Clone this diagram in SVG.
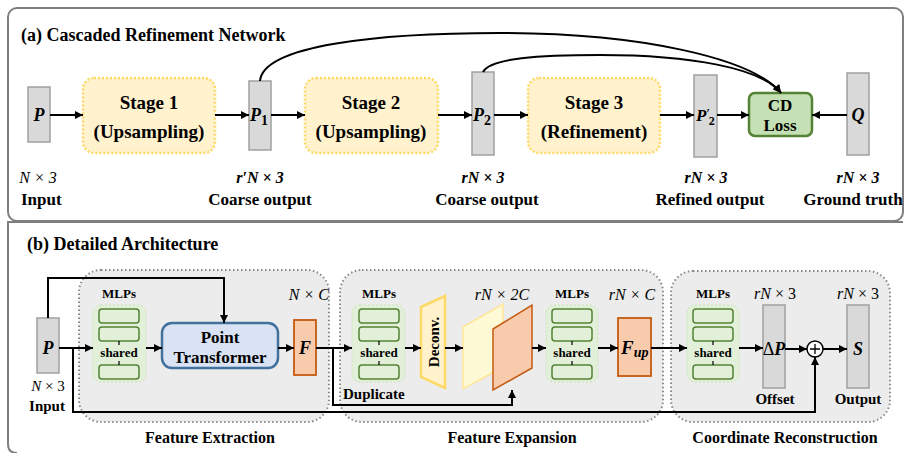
<svg xmlns="http://www.w3.org/2000/svg" width="905" height="453" viewBox="0 0 905 453" font-family="'Liberation Serif', 'DejaVu Serif', serif">
<defs>
<marker id="ah" viewBox="0 0 10 10" refX="10" refY="5" markerWidth="9" markerHeight="8" orient="auto" markerUnits="userSpaceOnUse"><path d="M0,0 L10,5 L0,10 z" fill="#000"/></marker>
</defs>
<style>
text{font-family:'Liberation Serif','DejaVu Serif',serif;fill:#000}
.b{font-weight:bold}
.bi{font-weight:bold;font-style:italic}
.i{font-style:italic}
.panel{fill:#fff;stroke:#7f7f7f;stroke-width:2}
.gray{fill:#d9d9d9;stroke:#a0a0a0;stroke-width:1.5}
.stage{fill:#fff2cc;stroke:#ffd966;stroke-width:2.5;stroke-dasharray:2 2}
.cd{fill:#c5e0b4;stroke:#548235;stroke-width:2.5}
.grp{fill:#ececec;stroke:#8a8a8a;stroke-width:2;stroke-dasharray:1.5 2.5}
.mlpbg{fill:#e2f0d9;stroke:#c9e2b9;stroke-width:1;stroke-dasharray:2 2}
.mlp{fill:#e2f0d9;stroke:#548235;stroke-width:1.5}
.orange{fill:#f8cbad;stroke:#c55a11;stroke-width:1.8}
.pt{fill:#dae3f3;stroke:#41719c;stroke-width:2.5}
.con{fill:none;stroke:#000;stroke-width:2}
.arr{fill:none;stroke:#000;stroke-width:2;marker-end:url(#ah)}
</style>

<!-- panels -->
<rect class="panel" x="8" y="8" width="895" height="213" rx="9"/>
<path class="panel" d="M903,222 H8 V444 Q8,453 17,453" fill="none"/>
<text class="b" x="21" y="41" font-size="18">(a) Cascaded Refinement Network</text>
<text class="b" x="27" y="250" font-size="18">(b) Detailed Architecture</text>

<!-- panel (a) nodes -->
<g id="a-P"><rect class="gray" x="28" y="87" width="22" height="55"/><text class="bi" x="39" y="121" font-size="18" text-anchor="middle">P</text></g>
<g id="a-stage1"><rect class="stage" x="83" y="78" width="132" height="75" rx="11"/><text class="b" x="149" y="109" font-size="19" text-anchor="middle">Stage 1</text><text class="b" x="149" y="138" font-size="19" text-anchor="middle">(Upsampling)</text></g>
<g id="a-P1"><rect class="gray" x="249" y="81" width="22" height="69"/><text class="bi" x="259" y="121" font-size="18" text-anchor="middle">P<tspan font-style="normal" font-size="14" dy="4">1</tspan></text></g>
<g id="a-stage2"><rect class="stage" x="305" y="78" width="133" height="75" rx="11"/><text class="b" x="371" y="109" font-size="19" text-anchor="middle">Stage 2</text><text class="b" x="371" y="138" font-size="19" text-anchor="middle">(Upsampling)</text></g>
<g id="a-P2"><rect class="gray" x="472" y="72" width="22" height="83"/><text class="bi" x="482" y="121" font-size="18" text-anchor="middle">P<tspan font-style="normal" font-size="14" dy="4">2</tspan></text></g>
<g id="a-stage3"><rect class="stage" x="528" y="78" width="132" height="75" rx="11"/><text class="b" x="594" y="109" font-size="19" text-anchor="middle">Stage 3</text><text class="b" x="594" y="138" font-size="19" text-anchor="middle">(Refinement)</text></g>
<g id="a-P2p"><rect class="gray" x="694" y="75" width="23" height="82"/><text class="bi" x="696" y="121" font-size="17">P<tspan font-style="normal" font-size="12" dy="-4">′</tspan><tspan font-style="normal" font-size="12" dx="-1" dy="8">2</tspan></text></g>
<g id="a-cd"><rect class="cd" x="749" y="93" width="63" height="43" rx="6"/><text class="b" x="780" y="111" font-size="17" text-anchor="middle">CD</text><text class="b" x="780" y="131" font-size="17" text-anchor="middle">Loss</text></g>
<g id="a-Q"><rect class="gray" x="847" y="73" width="22" height="82"/><text class="bi" x="858" y="121" font-size="18" text-anchor="middle">Q</text></g>

<g id="a-labels">
<text class="i" x="38" y="183" font-size="16" text-anchor="middle">N × 3</text>
<text class="b" x="21" y="205" font-size="17">Input</text>
<text class="bi" x="260" y="183" font-size="16" text-anchor="middle">r′N × 3</text>
<text class="b" x="260" y="205" font-size="17" text-anchor="middle">Coarse output</text>
<text class="bi" x="483" y="183" font-size="16" text-anchor="middle">rN × 3</text>
<text class="b" x="487" y="205" font-size="17" text-anchor="middle">Coarse output</text>
<text class="bi" x="706" y="183" font-size="16" text-anchor="middle">rN × 3</text>
<text class="b" x="710" y="205" font-size="17" text-anchor="middle">Refined output</text>
<text class="bi" x="858" y="183" font-size="16" text-anchor="middle">rN × 3</text>
<text class="b" x="853" y="205" font-size="17" text-anchor="middle">Ground truth</text>
</g>

<!-- panel (b) groups -->
<g id="b-groups">
<rect class="grp" x="79" y="270" width="250" height="152" rx="22"/>
<rect class="grp" x="340" y="270" width="323" height="152" rx="22"/>
<rect class="grp" x="671" y="271" width="219" height="151" rx="22"/>
<text class="b" x="210" y="443" font-size="16" text-anchor="middle">Feature Extraction</text>
<text class="b" x="512" y="443" font-size="16" text-anchor="middle">Feature Expansion</text>
<text class="b" x="785" y="443" font-size="16" text-anchor="middle">Coordinate Reconstruction</text>
</g>

<g id="b-P"><rect class="gray" x="37" y="318" width="22" height="55"/><text class="bi" x="48" y="354" font-size="18" text-anchor="middle">P</text>
<text x="48" y="391" font-size="15" text-anchor="middle"><tspan font-style="italic">N</tspan> × 3</text>
<text class="b" x="47" y="411" font-size="15" text-anchor="middle">Input</text></g>

<g id="b-mlp1">
<text class="b" x="119" y="298" font-size="13" text-anchor="middle">MLPs</text>
<rect class="mlpbg" x="93" y="305" width="53" height="77" rx="8"/>
<rect class="mlp" x="99" y="309" width="40" height="14" rx="3"/>
<rect class="mlp" x="99" y="327" width="40" height="14" rx="3"/>
<rect class="mlp" x="99" y="365" width="40" height="14" rx="3"/>
<path d="M119,341 V345 M119,361 V365" stroke="#000" stroke-width="1.2"/>
<text class="b" x="119" y="357" font-size="13" text-anchor="middle">shared</text>
</g>
<g id="b-pt"><rect class="pt" x="162" y="323" width="116" height="45" rx="10"/><text class="b" x="220" y="343" font-size="17" text-anchor="middle">Point</text><text class="b" x="220" y="363" font-size="17" text-anchor="middle">Transformer</text></g>
<g id="b-F"><rect class="orange" x="294" y="320" width="22" height="55"/><text class="bi" x="305" y="354" font-size="18" text-anchor="middle">F</text>
<text class="i" x="329" y="300" font-size="16" text-anchor="end">N × C</text></g>

<g id="b-mlp2">
<text class="b" x="379" y="298" font-size="13" text-anchor="middle">MLPs</text>
<rect class="mlpbg" x="352" y="305" width="53" height="77" rx="8"/>
<rect class="mlp" x="359" y="309" width="40" height="14" rx="3"/>
<rect class="mlp" x="359" y="327" width="40" height="14" rx="3"/>
<rect class="mlp" x="359" y="365" width="40" height="14" rx="3"/>
<path d="M379,341 V345 M379,361 V365" stroke="#000" stroke-width="1.2"/>
<text class="b" x="379" y="357" font-size="13" text-anchor="middle">shared</text>
<text class="b" x="343" y="399" font-size="15">Duplicate</text>
</g>
<g id="b-deconv"><polygon points="421,307 445,296 445,388 421,377" fill="#fff2cc" stroke="#ffd966" stroke-width="2.5"/>
<text class="b" transform="translate(439,342) rotate(-90)" font-size="15" text-anchor="middle">Deconv.</text></g>
<g id="b-planes">
<polygon points="463,327 503,304 503,367 463,389" fill="#fffad6" stroke="#ffe699" stroke-width="1.5"/>
<polygon points="493,329 532,305 532,368 493,390" fill="#f8cbad" stroke="#c55a11" stroke-width="1.5"/>
<text class="i" x="502" y="300" font-size="16" text-anchor="middle">rN × 2C</text>
</g>
<g id="b-mlp3">
<text class="b" x="572" y="298" font-size="13" text-anchor="middle">MLPs</text>
<rect class="mlpbg" x="546" y="305" width="52" height="77" rx="8"/>
<rect class="mlp" x="552" y="309" width="40" height="14" rx="3"/>
<rect class="mlp" x="552" y="327" width="40" height="14" rx="3"/>
<rect class="mlp" x="552" y="365" width="40" height="14" rx="3"/>
<path d="M572,341 V345 M572,361 V365" stroke="#000" stroke-width="1.2"/>
<text class="b" x="572" y="357" font-size="13" text-anchor="middle">shared</text>
</g>
<g id="b-Fup"><rect class="orange" x="618" y="318" width="33" height="58"/><text class="bi" x="621" y="354" font-size="19">F<tspan font-size="14" dy="3">up</tspan></text>
<text class="i" x="632" y="300" font-size="16" text-anchor="middle">rN × C</text></g>

<g id="b-mlp4">
<text class="b" x="713" y="298" font-size="13" text-anchor="middle">MLPs</text>
<rect class="mlpbg" x="687" y="305" width="52" height="77" rx="8"/>
<rect class="mlp" x="693" y="309" width="40" height="14" rx="3"/>
<rect class="mlp" x="693" y="327" width="40" height="14" rx="3"/>
<rect class="mlp" x="693" y="365" width="40" height="14" rx="3"/>
<path d="M713,341 V345 M713,361 V365" stroke="#000" stroke-width="1.2"/>
<text class="b" x="713" y="357" font-size="13" text-anchor="middle">shared</text>
</g>
<g id="b-dP"><rect class="gray" x="763" y="305" width="22" height="83"/><text x="774" y="355" font-size="18" text-anchor="middle">Δ<tspan font-weight="bold" font-style="italic">P</tspan></text>
<text x="775" y="299" font-size="16" text-anchor="middle"><tspan font-style="italic">rN</tspan> × 3</text>
<text class="b" x="775" y="404" font-size="15" text-anchor="middle">Offset</text></g>
<g id="b-plus"><circle cx="815" cy="349" r="8" fill="#fff" stroke="#000" stroke-width="1.5"/><path d="M810,349 H820 M815,344 V354" stroke="#000" stroke-width="1.3"/></g>
<g id="b-S"><rect class="gray" x="847" y="305" width="22" height="83"/><text class="bi" x="858" y="355" font-size="18" text-anchor="middle">S</text>
<text x="858" y="299" font-size="16" text-anchor="middle"><tspan font-style="italic">rN</tspan> × 3</text>
<text class="b" x="858" y="404" font-size="15" text-anchor="middle">Output</text></g>

<!-- connectors -->
<g id="connectors">
<path class="arr" d="M50,115 H83"/>
<path class="arr" d="M215,115 H249"/>
<path class="arr" d="M271,115 H305"/>
<path class="arr" d="M438,115 H472"/>
<path class="arr" d="M494,115 H528"/>
<path class="arr" d="M660,115 H694"/>
<path class="arr" d="M717,115 H749"/>
<path class="arr" d="M847,115 H812"/>
<path class="arr" d="M260,81 C263,45 380,33 500,33 C640,33 752,58 781,93"/>
<path class="arr" d="M483,72 C490,58 540,55 600,55 C690,55 762,68 781,93"/>

<path class="arr" d="M48,318 V278 H224 V323"/>
<path class="arr" d="M59,348 H93"/>
<path class="arr" d="M73,348 V412 H815 V357"/>
<path class="arr" d="M146,348 H162"/>
<path class="arr" d="M278,348 H294"/>
<path class="arr" d="M316,348 H352"/>
<path class="arr" d="M333,348 V405 H512 V390"/>
<path class="arr" d="M405,348 H421"/>
<path class="arr" d="M445,348 H463"/>
<path class="arr" d="M532,348 H546"/>
<path class="arr" d="M598,348 H618"/>
<path class="arr" d="M651,348 H687"/>
<path class="arr" d="M739,348 H763"/>
<path class="arr" d="M785,349 H807"/>
<path class="arr" d="M823,349 H847"/>
</g>
</svg>
